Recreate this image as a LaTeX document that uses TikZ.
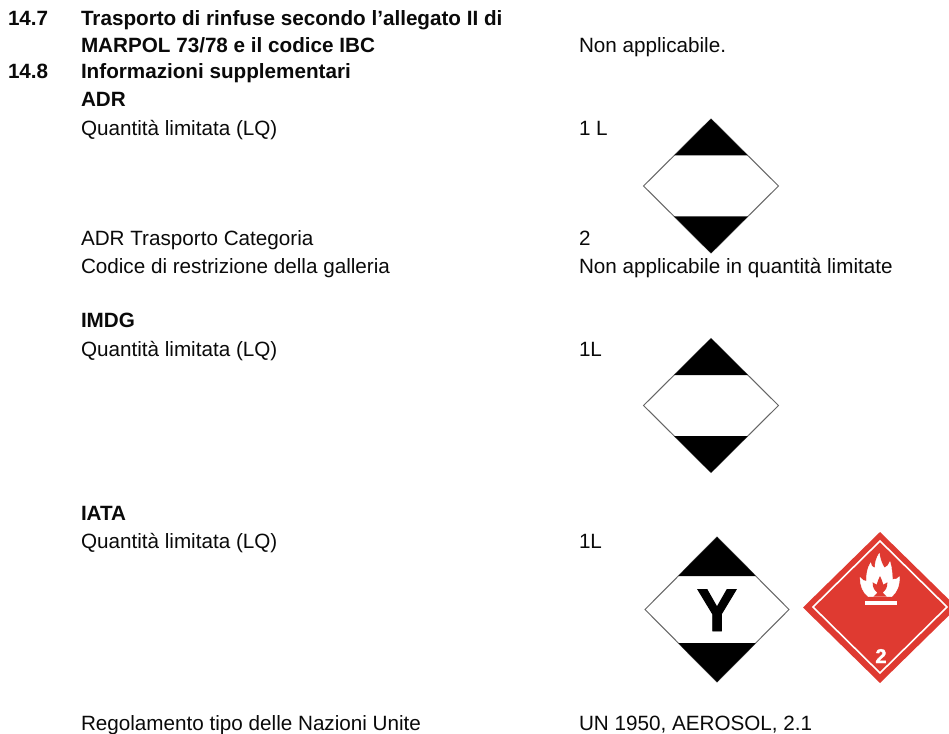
\documentclass[tikz,border=0pt]{standalone}
\usepackage{fontspec}
\setmainfont[BoldFont={Liberation Sans Bold}]{Liberation Sans}
\newfontfamily\heavyfont[BoldFont={Liberation Sans Bold},BoldFeatures={FakeBold=1.6}]{Liberation Sans}
\definecolor{hazred}{HTML}{DF3A31}
\definecolor{inkblack}{HTML}{0A0A0A}
\tikzset{
  x=0.75pt,y=-0.75pt,
  txt/.style={anchor=base west,inner sep=0pt,outer sep=0pt,text=inkblack,font=\fontsize{15.5}{18}\selectfont},
  hd/.style={txt,font=\fontsize{15.5}{18}\selectfont\bfseries},
  lqline/.style={draw=black!60,line width=0.75pt,fill=white,line join=miter},
  lqblack/.style={fill=black,draw=none},
}
\newcommand{\lqdiamond}[5]{% cx cy halfw halfh band
  \begin{scope}[shift={(#1,#2)}]
    \path[lqline] (0,-#4) -- (#3,0) -- (0,#4) -- (-#3,0) -- cycle;
    \pgfmathsetmacro{\bw}{#3*(#4-#5)/#4}
    \path[lqblack] (0,-#4) -- (\bw,-#5) -- (-\bw,-#5) -- cycle;
    \path[lqblack] (0,#4) -- (\bw,#5) -- (-\bw,#5) -- cycle;
  \end{scope}}
\begin{document}
\begin{tikzpicture}
\useasboundingbox (0,0) rectangle (949,734);
\fill[white] (0,0) rectangle (949,734);
\node[hd] (n147) at (8,26) {14.7};
\node[hd] (t147a) at (81,26) {Trasporto di rinfuse secondo l’allegato II di};
\node[hd] (t147b) at (81,53) {MARPOL 73/78 e il codice IBC};
\node[txt] (v147) at (579,53) {Non applicabile.};
\node[hd] (n148) at (8,79) {14.8};
\node[hd] (t148) at (81,79) {Informazioni supplementari};
\node[hd] (adr) at (81,107) {ADR};
\node[txt] (adrq) at (81,136) {Quantità limitata (LQ)};
\node[txt] (adrqv) at (579,136) {1 L};
\node[txt] (adrc) at (81,246) {ADR Trasporto Categoria};
\node[txt] (adrcv) at (579,246) {2};
\node[txt] (adrg) at (81,273) {Codice di restrizione della galleria};
\node[txt] (adrgv) at (579,273) {Non applicabile in quantità limitate};
\node[hd] (imdg) at (81,327) {IMDG};
\node[txt] (imdgq) at (81,356) {Quantità limitata (LQ)};
\node[txt] (imdgqv) at (579,356) {1L};
\node[hd] (iata) at (81,520) {IATA};
\node[txt] (iataq) at (81,548) {Quantità limitata (LQ)};
\node[txt] (iataqv) at (579,548) {1L};
\node[txt] (reg) at (81,730) {Regolamento tipo delle Nazioni Unite};
\node[txt] (regv) at (579,730) {UN 1950, AEROSOL, 2.1};
% limited quantity marks
\lqdiamond{711}{186}{67.5}{67}{30.5}
\lqdiamond{711}{405.5}{67.5}{67}{30.5}
\lqdiamond{717}{609.5}{72}{72.5}{33.5}
\node[anchor=base,inner sep=0pt,font=\heavyfont\fontsize{45}{45}\selectfont\bfseries,text=black] (yy) at (717,631) {Y};
% flammable label
\begin{scope}
\clip (0,0) rectangle (949,734);
\fill[hazred] (880,532) -- (957,607.5) -- (880,683) -- (803,607.5) -- cycle;
\draw[white,line width=1.2pt,line join=miter] (880,541) -- (947,607) -- (880,673) -- (813,607) -- cycle;
\end{scope}
\begin{scope}[shift={(850,540)},x=0.25pt,y=-0.25pt]
\fill[white,line join=round,draw=white,line width=0.3pt]
 (55,170) .. controls (38,158) and (30,135) .. (30,112)
 .. controls (36,120) and (42,124) .. (50,124)
 .. controls (48,105) and (52,84) .. (62,68)
 .. controls (64,78) and (68,84) .. (75,84)
 .. controls (74,68) and (80,52) .. (88,40)
 .. controls (90,58) and (96,72) .. (103,84)
 .. controls (110,82) and (118,74) .. (120,65)
 .. controls (126,85) and (127,105) .. (127,118)
 .. controls (136,120) and (144,116) .. (148,110)
 .. controls (150,135) and (140,158) .. (125,170) -- cycle;
\fill[hazred]
 (90,108) .. controls (94,118) and (98,124) .. (100,134)
 .. controls (104,132) and (108,130) .. (112,127)
 .. controls (113,142) and (106,152) .. (98,158)
 -- (110,170) -- (70,170) -- (82,158)
 .. controls (74,152) and (67,142) .. (68,127)
 .. controls (72,130) and (76,132) .. (80,134)
 .. controls (82,124) and (86,118) .. (90,108) -- cycle;
\fill[white] (45,183) rectangle (140,196);
\end{scope}
\node[anchor=base,inner sep=0pt,font=\heavyfont\fontsize{15}{15}\selectfont\bfseries,text=white] (two) at (881,663) {2};
\end{tikzpicture}
\end{document}
